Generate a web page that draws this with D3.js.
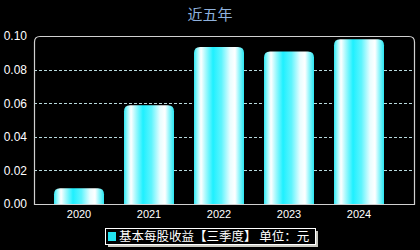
<!DOCTYPE html>
<html><head><meta charset="utf-8">
<script src="https://cdn.jsdelivr.net/npm/d3@7"></script>
<style>html,body{margin:0;padding:0;background:#000;}svg{display:block;}</style>
</head><body>
<script>
const categories = ["2020","2021","2022","2023","2024"];
const values = [0.0094, 0.0588, 0.0935, 0.0907, 0.098];
const yTicks = [0, 0.02, 0.04, 0.06, 0.08, 0.10];
const titleText = "近五年";
const legendText = "基本每股收益【三季度】 单位：元";

const W = 420, H = 250;
const svg = d3.select("body").append("svg").attr("width", W).attr("height", H)
  .style("background", "#000");
const font = "'Liberation Sans', Arial, 'Noto Sans CJK SC', sans-serif";

const defs = svg.append("defs");
const grad = defs.append("linearGradient").attr("id","barGrad")
  .attr("x1","0%").attr("x2","100%").attr("y1","0%").attr("y2","0%");
[[0,"#30e8f4"],[0.06,"#8ff6fb"],[0.14,"#ffffff"],[0.24,"#9ff8fc"],[0.38,"#1ef0ff"],[0.55,"#5ff4fd"],[0.72,"#e8fdff"],[0.82,"#ffffff"],[0.92,"#7ff4fb"],[1,"#2ae6f2"]]
  .forEach(([o,c]) => grad.append("stop").attr("offset", o).attr("stop-color", c));

const plot = {l:34, t:36, r:415, b:204};
const y = d3.scaleLinear().domain([0, 0.10]).range([plot.b, plot.t]);
const x = d3.scaleBand().domain(categories).range([44, 394]).paddingInner(0).paddingOuter(0);
const barW = 50;

// title
svg.append("text").attr("x", 210).attr("y", 20).attr("text-anchor","middle")
  .attr("font-family", font).attr("font-size", 15).attr("fill", "#8fb1dc").text(titleText);

// grid lines
svg.append("g").selectAll("line").data(yTicks.filter(t => t > 0 && t < 0.1)).join("line")
  .attr("x1", plot.l).attr("x2", plot.r)
  .attr("y1", d => Math.round(y(d)) + 0.5).attr("y2", d => Math.round(y(d)) + 0.5)
  .attr("stroke", "#b8d8dc").attr("stroke-width", 1).attr("stroke-dasharray", "3,2");

// bars with rounded top corners
const rr = 6;
svg.append("g").selectAll("path").data(values).join("path")
  .attr("d", (d, i) => {
    const cx = x(categories[i]) + x.bandwidth() / 2;
    const x0 = cx - barW / 2, x1 = cx + barW / 2;
    const yt = y(d), yb = y(0);
    const r = Math.min(rr, (yb - yt));
    return `M${x0},${yb} L${x0},${yt + r} Q${x0},${yt} ${x0 + r},${yt} L${x1 - r},${yt} Q${x1},${yt} ${x1},${yt + r} L${x1},${yb} Z`;
  })
  .attr("fill", "url(#barGrad)");

// frame (rounded top corners)
const fr = 6;
svg.append("path")
  .attr("d", `M${plot.l + 0.5},${plot.b + 0.5} L${plot.l + 0.5},${plot.t + fr} Q${plot.l + 0.5},${plot.t + 0.5} ${plot.l + fr},${plot.t + 0.5} L${plot.r - fr},${plot.t + 0.5} Q${plot.r - 0.5},${plot.t + 0.5} ${plot.r - 0.5},${plot.t + fr} L${plot.r - 0.5},${plot.b + 0.5} Z`)
  .attr("fill", "none").attr("stroke", "#d0d0d0").attr("stroke-width", 1.2);

// y axis labels
const yAxis = d3.axisLeft(y).tickValues(yTicks).tickFormat(d3.format(".2f")).tickSize(0).tickPadding(7);
const yg = svg.append("g").attr("transform", `translate(${plot.l},0)`).call(yAxis);
yg.select(".domain").remove();
yg.selectAll("text").attr("fill", "#fff").attr("font-family", font).attr("font-size", 12);

// x axis labels
const xAxis = d3.axisBottom(x).tickSize(0).tickPadding(6);
const xg = svg.append("g").attr("transform", `translate(0,${plot.b})`).call(xAxis);
xg.select(".domain").remove();
xg.selectAll("text").attr("fill", "#fff").attr("font-family", font).attr("font-size", 11);

// legend
const lg = svg.append("g");
const lx = 105, ly = 228, lw = 210, lh = 16;
lg.append("rect").attr("x", lx + 3).attr("y", ly + 3).attr("width", lw).attr("height", lh).attr("fill", "#c8c8c0");
lg.append("rect").attr("x", lx + 0.5).attr("y", ly + 0.5).attr("width", lw).attr("height", lh)
  .attr("fill", "#000").attr("stroke", "#fff").attr("stroke-width", 1);
lg.append("rect").attr("x", lx + 3).attr("y", ly + 4).attr("width", 8).attr("height", 9).attr("fill", "#22e4f2");
lg.append("text").attr("x", lx + 14).attr("y", ly + 13).attr("font-family", "'Noto Sans CJK SC', sans-serif")
  .attr("font-size", 12.5).attr("fill", "#fff").text(legendText);
</script>
</body></html>
